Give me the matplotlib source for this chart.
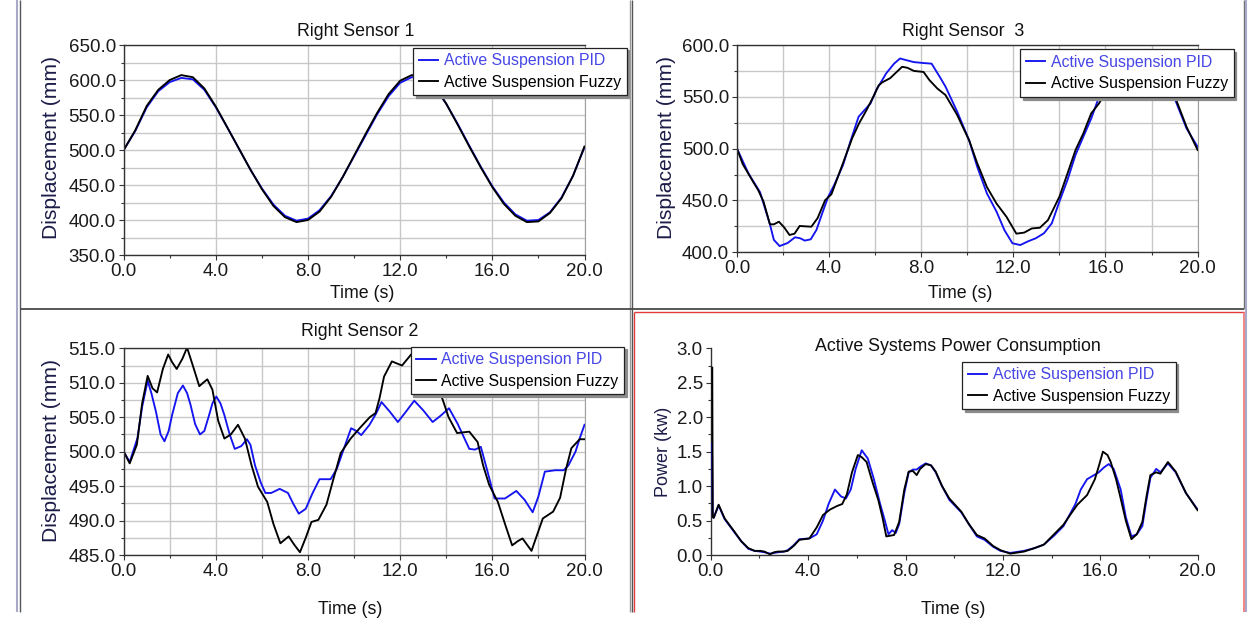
import numpy as np
import matplotlib
matplotlib.use('Agg')
import matplotlib.pyplot as plt
from matplotlib.ticker import MultipleLocator, FormatStrFormatter
from matplotlib.lines import Line2D

plt.rcParams['font.family'] = ['Liberation Sans', 'DejaVu Sans']

# ---------------- data ----------------
series_labels = ["Active Suspension PID", "Active Suspension Fuzzy"]
titles = ["Right Sensor 1", "Right Sensor  3", "Right Sensor 2", "Active Systems Power Consumption"]

# Right Sensor 1
s1_t = [0, 0.5, 1, 1.5, 2, 2.5, 3, 3.5, 4, 4.5, 5, 5.5, 6, 6.5, 7, 7.5, 8, 8.5, 9, 9.5, 10,
        10.5, 11, 11.5, 12, 12.5, 13, 13.5, 14, 14.5, 15, 15.5, 16, 16.5, 17, 17.5, 18, 18.5, 19, 19.5, 20]
s1_fuzzy = [500, 528, 563, 586, 600, 607, 604, 588, 562, 532, 502, 472, 444, 420, 404, 397, 400, 412, 433, 461, 492,
            523, 553, 580, 599, 607, 605, 591, 566, 536, 505, 475, 447, 423, 406, 397, 398, 410, 431, 463, 505]
s1_pid = [500, 527, 561, 584, 597, 603, 601, 586, 561, 532, 502, 472, 445, 422, 406, 399, 402, 414, 434, 461, 491,
          521, 551, 577, 596, 604, 603, 590, 566, 537, 506, 476, 448, 425, 408, 399, 400, 411, 432, 463, 504]

# Right Sensor 3
s3_pid_t = [0, 0.5, 1.0, 1.43, 1.6, 1.85, 2.2, 2.52, 2.75, 2.94, 3.2, 3.45, 3.7, 3.96, 4.22, 4.6, 4.94, 5.28,
            5.8, 6.05, 6.48, 6.82, 7.08, 7.33, 7.68, 8.1, 8.45, 8.8, 9.05, 9.56, 10.08, 10.43, 10.85, 11.27,
            11.61, 11.96, 12.3, 12.64, 12.98, 13.33, 13.67, 14.0, 14.35, 14.7, 15.04, 15.38, 15.72, 16.1,
            16.6, 17.1, 17.6, 18.1, 18.6, 19.0, 19.52, 20.0]
s3_pid = [500, 476, 458, 427, 412, 406, 409, 414.5, 413.5, 411.3, 412.5, 421.6, 437.6, 453.6, 464.9, 484, 508,
          530.8, 543.7, 556.6, 572.7, 582, 587, 585.5, 583.5, 582.6, 582, 569.4, 560, 535.7, 508, 482.6, 456.9,
          439.2, 421.5, 408.7, 407, 410.6, 413.6, 418.4, 428, 449, 469.8, 494, 511.6, 529, 550, 565, 580, 587,
          585, 578, 565, 548.6, 519.5, 501.8]
s3_fuzzy_t = [0, 0.25, 0.49, 0.7, 0.92, 1.15, 1.43, 1.6, 1.82, 2.05, 2.28, 2.5, 2.72, 3.0, 3.23, 3.5, 3.83,
              4.1, 4.6, 5.0, 5.3, 5.62, 5.94, 6.15, 6.31, 6.65, 7.17, 7.4, 7.68, 8.1, 8.36, 8.7, 9.05, 9.56,
              10.08, 10.43, 10.85, 11.27, 11.7, 12.13, 12.47, 12.8, 13.15, 13.5, 14.0, 14.35, 14.7, 15.04,
              15.38, 15.72, 16.07, 16.6, 17.1, 17.6, 18.1, 18.6, 19.0, 19.52, 20.0]
s3_fuzzy = [500, 485, 476, 468, 460, 449, 427, 427, 429.5, 424, 416.7, 418, 425.4, 425, 424.7, 433, 450.4,
            456, 485.9, 510, 524.4, 537, 551, 561, 564, 568, 579, 578, 575, 574, 566, 558, 551.8, 532.5,
            508, 486, 463, 447, 434.3, 418, 419, 423, 423.7, 431, 453.6, 476, 498.7, 514.8,
            534, 543.7, 556.6, 570, 578, 580, 575, 563, 551, 521, 498.7]

# Right Sensor 2
s2_pid_t = [0, 0.26, 0.6, 0.8, 1.04, 1.2, 1.4, 1.6, 1.77, 1.95, 2.1, 2.35, 2.57, 2.75, 2.9, 3.1, 3.31, 3.5,
            3.68, 3.85, 4.02, 4.2, 4.37, 4.6, 4.82, 5.1, 5.35, 5.5, 5.7, 5.95, 6.15, 6.4, 6.77, 7.13, 7.35,
            7.6, 7.9, 8.2, 8.5, 8.98, 9.25, 9.51, 9.87, 10.1, 10.31, 10.67, 10.95, 11.19, 11.55, 11.9, 12.25,
            12.61, 13.0, 13.41, 13.75, 14.12, 14.5, 15.0, 15.25, 15.5, 15.8, 16.1, 16.55, 17.04, 17.4, 17.75,
            18.0, 18.28, 18.73, 19.1, 19.3, 19.61, 19.8, 20.0]
s2_pid = [500, 498.5, 502, 506.5, 510.3, 508.5, 505.8, 502.5, 501.5, 503, 505.3, 508.5, 509.6, 508.5, 506.8,
          504, 502.5, 503, 505, 507, 508, 507, 505.3, 502.5, 500.4, 500.8, 501.8, 501, 498, 495.5, 494, 494,
          494.6, 494, 492.5, 491, 491.7, 494, 496, 496, 497.5, 500, 503.4, 503, 502.4, 503.9, 505.5, 507.2,
          505.8, 504.3, 505.8, 507.4, 506, 504.3, 505.2, 506.3, 504, 500.4, 500.3, 500.7, 497, 493.2, 493.2,
          494.3, 493, 491.2, 493.5, 497.1, 497.3, 497.3, 498, 500, 502, 503.9]
s2_fuzzy_t = [0, 0.26, 0.57, 0.8, 1.04, 1.25, 1.45, 1.7, 1.93, 2.1, 2.3, 2.55, 2.75, 3.0, 3.28, 3.45, 3.63,
              3.85, 4.1, 4.37, 4.65, 4.96, 5.26, 5.55, 5.83, 6.23, 6.5, 6.8, 7.16, 7.4, 7.65, 7.9, 8.15, 8.45,
              8.8, 9.1, 9.42, 9.85, 10.24, 10.68, 10.93, 11.1, 11.3, 11.64, 12.08, 12.5, 12.75, 13.1, 13.5,
              13.85, 14.1, 14.47, 15.0, 15.36, 15.6, 15.86, 16.24, 16.55, 16.86, 17.1, 17.31, 17.7, 17.95,
              18.19, 18.64, 18.94, 19.2, 19.43, 19.79, 20.0]
s2_fuzzy = [500, 498.3, 501, 507, 511, 509.2, 508.6, 512, 514.1, 513, 512, 513.5, 515.1, 512.5, 509.5, 510,
            510.5, 509, 504.5, 501.9, 502.5, 503.9, 501.9, 498, 494.9, 492.7, 489.5, 486.7, 487.7, 486.5,
            485.4, 487.5, 489.8, 490.1, 492.3, 496, 499.8, 501.9, 503.4, 505, 505.6, 507.7, 510.9, 513.1,
            512.5, 514.2, 514.6, 513, 510.5, 507.5, 505, 502.7, 502.9, 501.4, 498, 495.2, 492.7, 489.5,
            486.4, 487, 487.4, 485.6, 488, 490.3, 491.3, 493.3, 497.5, 500.5, 501.8, 501.8]

# Power consumption
p_pid_t = [0.05, 0.08, 0.12, 0.32, 0.57, 0.97, 1.25, 1.54, 1.8, 2.03, 2.2, 2.43, 2.6, 2.76, 3.0, 3.16, 3.4,
           3.64, 4.05, 4.35, 4.61, 4.85, 5.1, 5.35, 5.55, 5.75, 5.95, 6.2, 6.45, 6.7, 6.95, 7.15, 7.3, 7.45,
           7.6, 7.74, 7.95, 8.13, 8.3, 8.46, 8.6, 8.83, 9.05, 9.24, 9.5, 9.8, 10.29, 10.6, 10.93, 11.25, 11.6,
           11.9, 12.3, 12.87, 13.3, 13.68, 14.1, 14.49, 14.98, 15.2, 15.46, 15.7, 15.94, 16.15, 16.35, 16.55,
           16.84, 17.05, 17.28, 17.5, 17.73, 17.9, 18.06, 18.3, 18.47, 18.78, 19.1, 19.52, 20.0]
p_pid = [1.62, 0.55, 0.54, 0.72, 0.52, 0.33, 0.2, 0.09, 0.06, 0.05, 0.04, 0.02, 0.03, 0.04, 0.05, 0.07, 0.14,
         0.23, 0.24, 0.3, 0.5, 0.75, 0.95, 0.85, 0.82, 0.95, 1.25, 1.52, 1.4, 1.1, 0.75, 0.5, 0.3, 0.36, 0.32,
         0.45, 0.9, 1.2, 1.24, 1.24, 1.28, 1.33, 1.3, 1.2, 1.0, 0.8, 0.62, 0.45, 0.27, 0.22, 0.12, 0.06, 0.03,
         0.06, 0.1, 0.15, 0.28, 0.42, 0.74, 0.95, 1.1, 1.15, 1.2, 1.27, 1.32, 1.25, 0.95, 0.55, 0.27, 0.3,
         0.42, 0.8, 1.12, 1.25, 1.2, 1.33, 1.2, 0.9, 0.66]
p_fuzzy_t = [0.06, 0.08, 0.12, 0.32, 0.57, 0.97, 1.25, 1.54, 1.8, 2.03, 2.2, 2.43, 2.6, 2.76, 3.0, 3.16, 3.4,
             3.64, 4.05, 4.35, 4.61, 4.9, 5.18, 5.4, 5.59, 5.8, 6.04, 6.2, 6.4, 6.65, 6.88, 7.05, 7.21, 7.53,
             7.74, 7.95, 8.13, 8.3, 8.46, 8.6, 8.83, 9.05, 9.24, 9.5, 9.8, 10.29, 10.6, 10.93, 11.25, 11.6,
             11.9, 12.3, 12.87, 13.3, 13.68, 14.1, 14.49, 14.8, 15.06, 15.46, 15.78, 15.95, 16.11, 16.3,
             16.43, 16.65, 16.84, 17.05, 17.28, 17.5, 17.73, 17.9, 18.06, 18.3, 18.47, 18.78, 19.1, 19.52, 20.0]
p_fuzzy = [2.72, 0.55, 0.54, 0.73, 0.53, 0.34, 0.2, 0.1, 0.06, 0.06, 0.05, 0.01, 0.04, 0.05, 0.05, 0.06, 0.13,
           0.22, 0.24, 0.4, 0.58, 0.66, 0.71, 0.74, 0.88, 1.2, 1.45, 1.42, 1.35, 1.05, 0.8, 0.55, 0.27, 0.29,
           0.48, 0.95, 1.21, 1.22, 1.16, 1.25, 1.32, 1.3, 1.21, 1.0, 0.82, 0.63, 0.45, 0.29, 0.24, 0.13, 0.07,
           0.02, 0.05, 0.1, 0.15, 0.3, 0.44, 0.6, 0.73, 0.87, 1.1, 1.3, 1.5, 1.45, 1.35, 1.1, 0.82, 0.5, 0.23,
           0.3, 0.48, 0.85, 1.16, 1.2, 1.18, 1.35, 1.21, 0.9, 0.65]

# ---------------- figure ----------------
W, H = 1248, 619
fig = plt.figure(figsize=(W / 100, H / 100), dpi=100)
fig.patch.set_facecolor('white')


def fx(x):
    return x / W


def fy(y):
    return 1 - y / H


def make_axes(l, r, t, b):
    return fig.add_axes([fx(l), fy(b), (r - l) / W, (b - t) / H])


BLUE = '#1414f0'
BLACK = '#000000'
GRID = '#c8c8c8'


def style(ax, ylim, ymaj, ymin, xgrid_minor=True, grid=True, box=True):
    ax.set_xlim(0, 20)
    ax.set_ylim(*ylim)
    ax.xaxis.set_major_locator(MultipleLocator(4))
    ax.xaxis.set_minor_locator(MultipleLocator(2))
    ax.yaxis.set_major_locator(MultipleLocator(ymaj))
    ax.yaxis.set_minor_locator(MultipleLocator(ymin))
    ax.xaxis.set_major_formatter(FormatStrFormatter('%.1f'))
    ax.yaxis.set_major_formatter(FormatStrFormatter('%.1f'))
    ax.tick_params(which='major', direction='out', length=3.5, width=0.8, pad=2.2,
                   labelsize=13.5, color='#333333', labelcolor='#1a1a1a')
    ax.tick_params(which='minor', direction='out', length=2.2, width=0.8, color='#333333')
    ax.tick_params(axis='x', which='major', pad=2.2)
    if grid:
        ax.grid(True, which='major', axis='both', color=GRID, lw=1.0)
        ax.grid(True, which='minor', axis='y', color=GRID, lw=1.0)
        if xgrid_minor:
            ax.grid(True, which='minor', axis='x', color=GRID, lw=1.0)
        ax.set_axisbelow(True)
    for s in ['left', 'bottom', 'top']:
        ax.spines[s].set_color('#333333')
        ax.spines[s].set_linewidth(1.0)
    ax.spines['right'].set_color('#a0a0a0')
    if not box:
        ax.spines['top'].set_visible(False)
        ax.spines['right'].set_visible(False)


def legend(ax, h, l, t):
    leg = ax.legend(h, series_labels, loc='upper left', bbox_to_anchor=(fx(l), fy(t)),
                    bbox_transform=fig.transFigure, borderaxespad=0, fontsize=11.4,
                    frameon=True, fancybox=False, shadow={'color': '#8c8c8c', 'alpha': 1.0},
                    handlelength=1.25, handletextpad=0.35, borderpad=0.35, labelspacing=0.42)
    fr = leg.get_frame()
    fr.set_edgecolor('#222222')
    fr.set_linewidth(0.9)
    fr.set_alpha(1.0)
    leg.get_texts()[0].set_color('#4646e6')
    leg.set_zorder(20)
    return leg


def labels(title, tpos, ylab, ypos, ysize, xpos):
    fig.text(fx(tpos[0]), fy(tpos[1]), title, ha='center', va='center', fontsize=12.8, color='#111111')
    fig.text(fx(ypos[0]), fy(ypos[1]), ylab, ha='center', va='center', rotation=90,
             fontsize=ysize, color='#1c1c48')
    fig.text(fx(xpos[0]), fy(xpos[1]), 'Time (s)', ha='center', va='center', fontsize=12.8, color='#111111')


LW = 1.35

# Panel 1: Right Sensor 1
ax1 = make_axes(123.7, 584.5, 45, 255)
style(ax1, (350, 650), 50, 25, xgrid_minor=False)
h1, = ax1.plot(s1_t, s1_pid, color=BLUE, lw=LW)
h2, = ax1.plot(s1_t, s1_fuzzy, color=BLACK, lw=LW)
legend(ax1, [h1, h2], 413, 47.7)
labels(titles[0], (356, 32), 'Displacement (mm)', (52, 147), 15.2, (362, 293))

# Panel 2: Right Sensor 3
ax2 = make_axes(737, 1197.6, 45, 252.3)
style(ax2, (400, 600), 50, 25)
h1, = ax2.plot(s3_pid_t, s3_pid, color=BLUE, lw=LW)
h2, = ax2.plot(s3_fuzzy_t, s3_fuzzy, color=BLACK, lw=LW)
legend(ax2, [h1, h2], 1020, 49)
labels(titles[1], (963, 31), 'Displacement (mm)', (667, 147), 15.2, (960, 293))

# Panel 3: Right Sensor 2
ax3 = make_axes(123.7, 584.5, 348.3, 555)
style(ax3, (485, 515), 5, 2.5)
h1, = ax3.plot(s2_pid_t, s2_pid, color=BLUE, lw=LW)
h2, = ax3.plot(s2_fuzzy_t, s2_fuzzy, color=BLACK, lw=LW)
legend(ax3, [h1, h2], 410.6, 346.7)
labels(titles[2], (360, 331.7), 'Displacement (mm)', (52, 450), 15.2, (350, 610))

# Panel 4: Power consumption
ax4 = make_axes(710.8, 1197.6, 348.3, 555)
style(ax4, (0, 3), 0.5, 0.25, grid=False, box=False)
h1, = ax4.plot(p_pid_t, p_pid, color=BLUE, lw=LW, zorder=3)
h2, = ax4.plot(p_fuzzy_t, p_fuzzy, color=BLACK, lw=LW, zorder=3)
legend(ax4, [h1, h2], 962, 361.7)
labels(titles[3], (957.6, 347), 'Power (kw)', (664, 452), 13.0, (953, 610))


# ---------------- window frames ----------------
def fline(x1, y1, x2, y2, color, lw):
    fig.add_artist(Line2D([fx(x1), fx(x2)], [fy(y1), fy(y2)], transform=fig.transFigure,
                          color=color, lw=lw, solid_capstyle='butt'))


fline(16.5, 0, 16.5, 612, '#a8a8c8', 1.5)
fline(19.5, 0, 19.5, 612, '#55555e', 1.0)
fline(629.5, 0, 629.5, 612, '#9a9a9a', 1.0)
fline(632, 0, 632, 612, '#555555', 1.0)
fline(19.5, 309.3, 1244, 309.3, '#4a4a4a', 1.3)
fline(1243.5, 0, 1243.5, 309, '#707070', 1.0)
fline(1246, 0, 1246, 612, '#a8a8c8', 1.5)
fline(633.5, 311.8, 1243.5, 311.8, '#e03c3c', 1.0)
fline(633.5, 311.8, 633.5, 612, '#e03c3c', 1.0)
fline(1243.8, 311.8, 1243.8, 612, '#f07070', 1.2)

fig.savefig('out.png', dpi=100, facecolor='white')
